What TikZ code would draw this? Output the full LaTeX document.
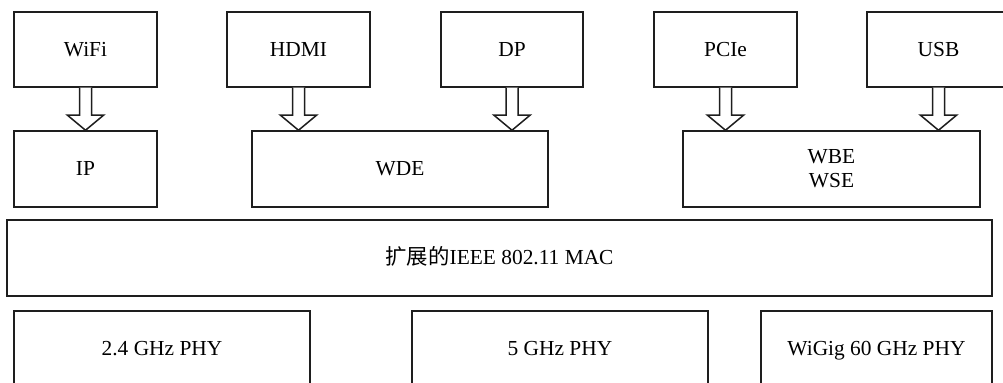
\documentclass[tikz,border=0pt]{standalone}
\usepackage{fontspec}
\setmainfont{Liberation Serif}
\newfontfamily\cjk{Noto Sans CJK SC}
\usetikzlibrary{positioning,calc}
\definecolor{LineBlack}{RGB}{30,30,30}
\tikzset{
    layerbox/.style={draw=LineBlack, line width=0.75pt, rectangle,
                     minimum height=37.5pt, inner sep=0pt, sharp corners,
                     font=\fontsize{10.7}{12}\selectfont, align=center},
    oneline/.style={text height=0.85em, text depth=0.15em},
    smallbox/.style={layerbox, oneline, minimum width=71.5pt},
    widebox/.style={layerbox, oneline, minimum width=148pt},
    % Hollow block arrow
    blockarrow/.style={draw=LineBlack, line width=0.75pt, fill=white, line join=miter}
}
% hollow arrow from #1 down to #2
\newcommand{\hollowarrow}[2]{%
    \coordinate (#1tip) at (#1.south |- #2.north);
    \draw[blockarrow] ([xshift=-3pt]#1.south)
        -- ([xshift=-3pt,yshift=7.5pt]#1tip) -- ([xshift=-9pt,yshift=7.5pt]#1tip)
        -- (#1tip)
        -- ([xshift=9pt,yshift=7.5pt]#1tip) -- ([xshift=3pt,yshift=7.5pt]#1tip)
        -- ([xshift=3pt]#1.south);
}

\begin{document}
\begin{tikzpicture}[x=0.5pt, y=-0.5pt]
    \useasboundingbox (0,0) rectangle (1003,383);
    \clip (0,0) rectangle (1003,383);

    % Interfaces
    \node[smallbox] (wifi) at (85.5,49.5) {WiFi};
    \node[smallbox] (hdmi) at (298.5,49.5) {HDMI};
    \node[smallbox, minimum width=71pt] (dp) at (512,49.5) {DP};
    \node[smallbox] (pcie) at (725.5,49.5) {PCIe};
    \node[smallbox] (usb) at (938.5,49.5) {USB};

    % Adaptation layers
    \node[smallbox, minimum height=38pt] (ip) at (85.5,169) {IP};
    \node[widebox, minimum height=38pt] (wde) at (400,169) {WDE};
    \node[layerbox, minimum width=148.5pt, minimum height=38pt] (wbe) at (831.5,169) {WBE\\WSE};

    % MAC
    \node[layerbox, oneline, minimum width=492.5pt, minimum height=38pt] (mac) at (499.5,258)
        {{\cjk 扩展的}IEEE 802.11 MAC};

    % PHY layers
    \node[widebox] (phya) at (162,348.5) {2.4 GHz PHY};
    \node[widebox] (phyb) at (560,348.5) {5 GHz PHY};
    \node[layerbox, oneline, minimum width=115.5pt] (phyc) at (876.5,348.5) {WiGig 60 GHz PHY};

    % Arrows
    \hollowarrow{wifi}{ip}
    \hollowarrow{hdmi}{wde}
    \hollowarrow{dp}{wde}
    \hollowarrow{pcie}{wbe}
    \hollowarrow{usb}{wbe}
\end{tikzpicture}
\end{document}
